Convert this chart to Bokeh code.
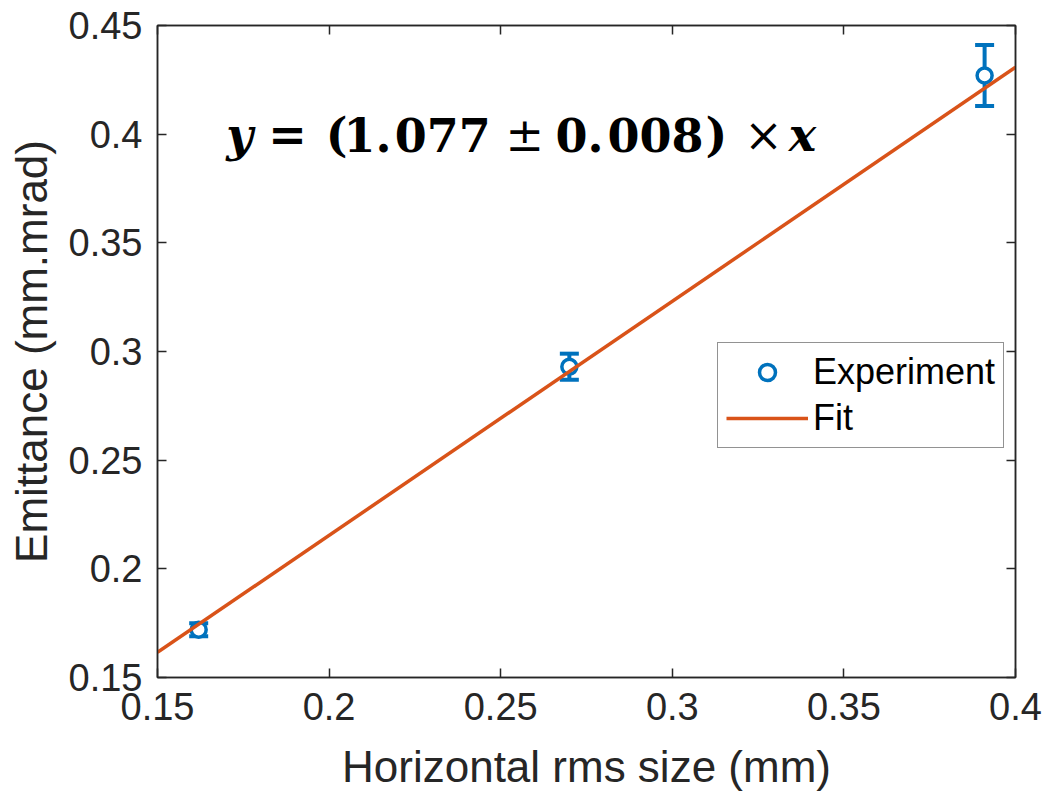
from bokeh.plotting import figure
from bokeh.models import (ColumnDataSource, LinearAxis, FixedTicker, Legend,
                          LegendItem, Label, Range1d)
from bokeh.embed import file_html
from bokeh.resources import INLINE

# ---------------- data ----------------
x_size = [0.162, 0.270, 0.391]          # Horizontal rms size (mm)
emittance = [0.172, 0.293, 0.427]       # Emittance (mm.mrad)
emit_err = [0.003, 0.006, 0.014]        # error bar half-heights

fit_slope = 1.077
fit_x = [0.15, 0.40]
fit_y = [fit_slope * v for v in fit_x]

x_ticks = [0.15, 0.2, 0.25, 0.3, 0.35, 0.4]
x_tick_labels = ["0.15", "0.2", "0.25", "0.3", "0.35", "0.4"]
y_ticks = [0.15, 0.2, 0.25, 0.3, 0.35, 0.4, 0.45]
y_tick_labels = ["0.15", "0.2", "0.25", "0.3", "0.35", "0.4", "0.45"]

BLUE = "#0072BD"
ORANGE = "#D95319"
AXC = "#262626"
SANS = "Liberation Sans"

src = ColumnDataSource(dict(
    x=x_size, y=emittance,
    lo=[v - e for v, e in zip(emittance, emit_err)],
    hi=[v + e for v, e in zip(emittance, emit_err)],
))

p = figure(width=1048, height=796, output_backend="svg", toolbar_location=None,
           x_range=Range1d(0.15, 0.4), y_range=Range1d(0.15, 0.45),
           min_border_left=157, min_border_right=33, min_border_top=25,
           min_border_bottom=119)
p.background_fill_color = "white"
p.border_fill_color = "white"
p.grid.visible = False
p.outline_line_color = AXC
p.outline_line_width = 1.5

# error bars
p.segment(x0="x", y0="lo", x1="x", y1="hi", source=src, line_color=BLUE, line_width=4)
p.scatter(x="x", y="lo", source=src, marker="dash", size=19, line_color=BLUE, line_width=4)
p.scatter(x="x", y="hi", source=src, marker="dash", size=19, line_color=BLUE, line_width=4)
pts = p.scatter(x="x", y="y", source=src, marker="circle", size=15, line_color=BLUE,
                line_width=3.5, fill_color="white")

fit_r = p.line(fit_x, fit_y, line_color=ORANGE, line_width=3.5)

# axes styling
def style_axis(ax):
    ax.axis_line_color = AXC
    ax.axis_line_width = 1.5
    ax.major_tick_line_color = AXC
    ax.major_tick_line_width = 1.5
    ax.major_tick_in = 9
    ax.major_tick_out = 0
    ax.minor_tick_line_color = AXC
    ax.minor_tick_line_width = 1.5
    ax.minor_tick_in = 0
    ax.minor_tick_out = 0

xa = p.xaxis[0]
ya = p.yaxis[0]
xa.ticker = FixedTicker(ticks=x_ticks)
ya.ticker = FixedTicker(ticks=y_ticks)
xa.major_label_overrides = {t: l for t, l in zip(x_ticks, x_tick_labels)}
ya.major_label_overrides = {t: l for t, l in zip(y_ticks, y_tick_labels)}
for ax in (xa, ya):
    style_axis(ax)
    ax.major_label_text_font = SANS
    ax.major_label_text_font_size = "38px"
    ax.major_label_text_color = AXC
    ax.axis_label_text_font = SANS
    ax.axis_label_text_font_size = "44px"
    ax.axis_label_text_font_style = "normal"
    ax.axis_label_text_color = AXC
xa.major_label_standoff = 15
ya.major_label_standoff = 15
xa.axis_label = "Horizontal rms size (mm)"
ya.axis_label = "Emittance (mm.mrad)"
xa.axis_label_standoff = 19
ya.axis_label_standoff = 10

# box axes on top and right: inward ticks only (drawn as minor ticks, no labels)
top_ax = LinearAxis(ticker=FixedTicker(ticks=[], minor_ticks=x_ticks))
right_ax = LinearAxis(ticker=FixedTicker(ticks=[], minor_ticks=y_ticks))
for ax in (top_ax, right_ax):
    style_axis(ax)
    ax.minor_tick_in = 9
    ax.major_label_standoff = 0
p.add_layout(top_ax, "above")
p.add_layout(right_ax, "right")

# legend
legend = Legend(items=[
    LegendItem(label="Experiment", renderers=[pts]),
    LegendItem(label="Fit", renderers=[fit_r]),
], location=(560, 229))
legend.label_text_font = SANS
legend.label_text_font_size = "36px"
legend.label_text_color = "black"
legend.glyph_width = 82
legend.glyph_height = 40
legend.label_height = 40
legend.label_standoff = 5
legend.padding = 8
legend.spacing = 4
legend.margin = 0
legend.border_line_color = AXC
legend.border_line_width = 1.5
legend.background_fill_color = "white"
legend.background_fill_alpha = 1.0
p.add_layout(legend)

# fit equation annotation
EQ_FONT = "DejaVu Serif"
eq_base = 0.3994
eq_parts = [
    ("y", 0.1700, "bold italic"),
    ("=", 0.1823, "bold"),
    ("(", 0.1990, "bold"),
    ("1.", 0.2042, "bold"),
    ("077", 0.2191, "bold"),
    ("\u00b1", 0.2514, "normal"),
    ("0.", 0.2660, "bold"),
    ("008", 0.2811, "bold"),
    (")", 0.3097, "bold"),
    ("\u00d7", 0.3210, "normal"),
    ("x", 0.3339, "bold italic"),
]
for txt, xp, style in eq_parts:
    p.add_layout(Label(x=xp, y=eq_base, text=txt, text_font=EQ_FONT,
                       text_font_size="46px", text_font_style=style,
                       text_color="black", text_baseline="alphabetic",
                       text_align="left"))

open("out.html", "w").write(file_html(p, INLINE))
